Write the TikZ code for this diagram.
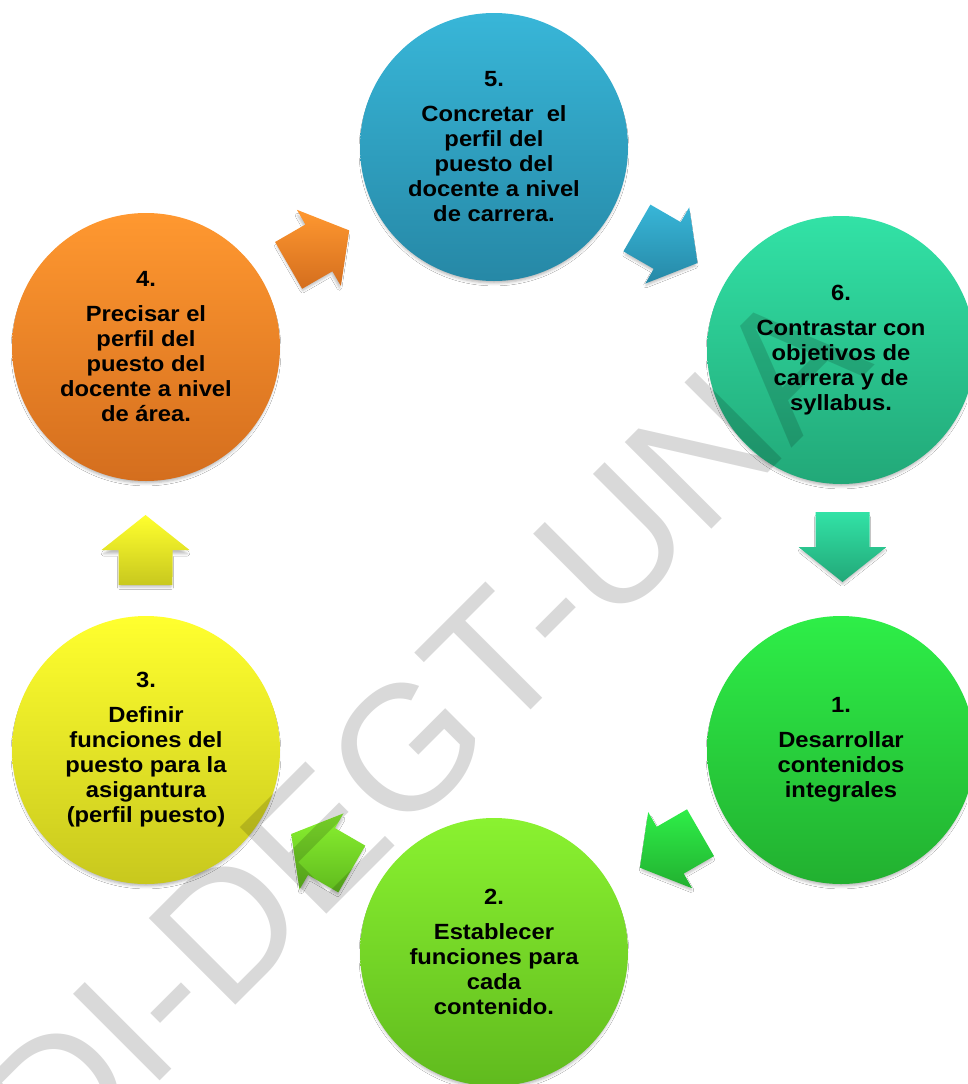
\documentclass[tikz,border=0pt]{standalone}
\usepackage{fontspec}
\setmainfont{Liberation Sans}
\newfontfamily\lblfont{Liberation Sans}[FakeStretch=1.08]
\usetikzlibrary{shadows.blur}
\definecolor{c5t}{RGB}{56,182,216}\definecolor{c5b}{RGB}{38,136,166}
\definecolor{c6t}{RGB}{50,226,166}\definecolor{c6b}{RGB}{34,168,120}
\definecolor{c1t}{RGB}{46,238,72}\definecolor{c1b}{RGB}{34,176,48}
\definecolor{c2t}{RGB}{138,242,48}\definecolor{c2b}{RGB}{96,186,30}
\definecolor{c3t}{RGB}{255,255,46}\definecolor{c3b}{RGB}{200,200,30}
\definecolor{c4t}{RGB}{255,152,48}\definecolor{c4b}{RGB}{212,110,30}
\newcommand{\myblockarrow}[4]{%
  \path[arrowshape, top color=#3, bottom color=#4, shift={(#1)}]
    (#2+142.35:44.2) -- (#2+90:27) -- (#2+90:44) -- (#2:35) --
    (#2-90:44) -- (#2-90:27) -- (#2+217.65:44.2) -- cycle;}
\begin{document}
\begin{tikzpicture}[x=1pt,y=1pt,
  circ/.style={circle, minimum size=268pt, inner sep=0pt, align=center,
    font=\lblfont\bfseries\fontsize{22}{25}\selectfont, text=black,
    blur shadow={shadow xshift=0pt, shadow yshift=-4pt, shadow blur radius=3pt, shadow scale=0.985, shadow opacity=30}},
  arrowshape/.style={blur shadow={shadow xshift=0pt, shadow yshift=-4pt, shadow blur radius=2.5pt, shadow scale=0.95, shadow opacity=25}},
  wm/.style={inner sep=0pt, font=\fontsize{178}{200}\selectfont, text=black, text opacity=0.15}]
\useasboundingbox (0,0) rectangle (967,-1084);
\fill[white] (0,0) rectangle (967,-1084);

\node[circ, top color=c5t, bottom color=c5b] (c5) at (494,-147)
  {5.\\[10pt] Concretar\ \ el\\ perfil del\\ puesto del\\ docente a nivel\\ de carrera.};
\node[circ, top color=c6t, bottom color=c6b] (c6) at (841,-350)
  {6.\\[10pt] Contrastar con\\ objetivos de\\ carrera y de\\ syllabus.};
\node[circ, top color=c1t, bottom color=c1b] (c1) at (841,-750)
  {1.\\[10pt] Desarrollar\\ contenidos\\ integrales};
\node[circ, top color=c2t, bottom color=c2b] (c2) at (494,-952)
  {2.\\[10pt] Establecer\\ funciones para\\ cada\\ contenido.};
\node[circ, top color=c3t, bottom color=c3b] (c3) at (146,-750)
  {3.\\[10pt] Definir\\ funciones del\\ puesto para la\\ asigantura\\ (perfil puesto)};
\node[circ, top color=c4t, bottom color=c4b] (c4) at (146,-347)
  {4.\\[10pt] Precisar el\\ perfil del\\ puesto del\\ docente a nivel\\ de área.};

\myblockarrow{318.9,-247.9}{30}{c4t}{c4b}
\myblockarrow{667.2,-245.5}{-30}{c5t}{c5b}
\myblockarrow{842.5,-547}{-90}{c6t}{c6b}
\myblockarrow{670.2,-850.2}{210}{c1t}{c1b}
\myblockarrow{321.5,-851.5}{150}{c2t}{c2b}
\myblockarrow{145.5,-550}{90}{c3t}{c3b}

\node[wm, anchor=base, rotate=45] (wmark) at (466.8,-773.8) {DI-DEGT-UNA};
\end{tikzpicture}
\end{document}
